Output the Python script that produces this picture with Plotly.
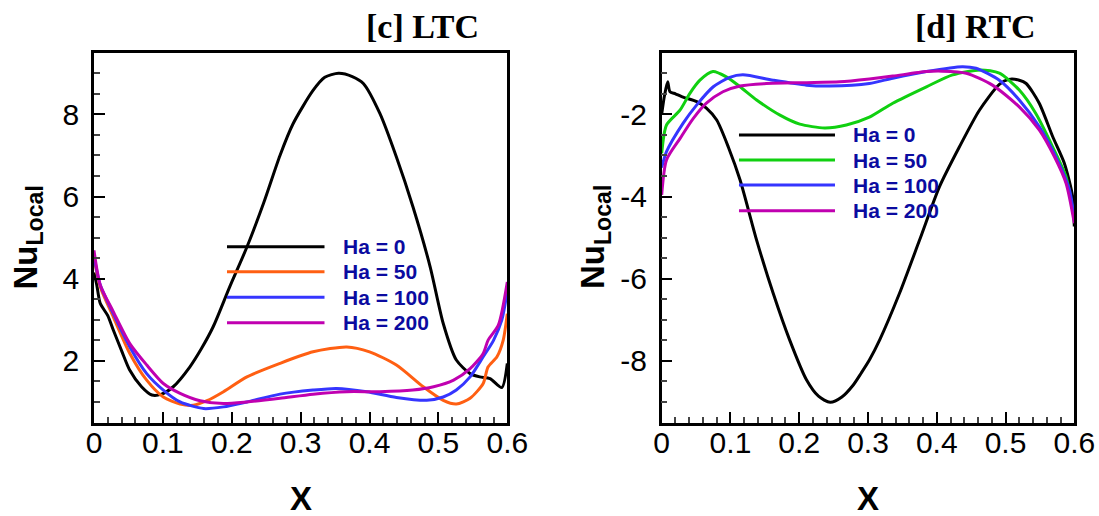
import plotly.graph_objects as go

# ---------------- data: local Nusselt number along the wall ----------------
ha_labels = ["Ha = 0", "Ha = 50", "Ha = 100", "Ha = 200"]

# [c] LTC
ltc_x_ha0 = [0.0, 0.004, 0.009, 0.02, 0.028, 0.04, 0.052, 0.069, 0.084, 0.098, 0.115, 0.139, 0.156, 0.173,
             0.197, 0.222, 0.246, 0.27, 0.289, 0.318, 0.335, 0.355, 0.375, 0.391, 0.415, 0.439, 0.463,
             0.488, 0.507, 0.526, 0.546, 0.56, 0.575, 0.592, 0.6]
ltc_y_ha0 = [4.15, 3.85, 3.4, 3.1, 2.75, 2.25, 1.77, 1.37, 1.17, 1.19, 1.37, 1.85, 2.3, 2.83,
             3.8, 4.77, 5.83, 7.0, 7.77, 8.58, 8.9, 9.0, 8.92, 8.75, 8.02, 6.96, 5.75,
             4.29, 2.91, 2.02, 1.69, 1.61, 1.57, 1.35, 1.94]

ltc_x_ha50 = [0.0, 0.009, 0.028, 0.052, 0.0765, 0.1006, 0.125, 0.144, 0.164, 0.188, 0.222, 0.27, 0.318,
              0.367, 0.4, 0.439, 0.478, 0.507, 0.526, 0.546, 0.565, 0.572, 0.585, 0.594, 0.6]
ltc_y_ha50 = [4.5, 3.8, 3.07, 2.18, 1.53, 1.12, 0.95, 0.92, 1.03, 1.25, 1.61, 1.94, 2.22,
              2.34, 2.22, 1.9, 1.37, 1.04, 0.95, 1.09, 1.45, 1.85, 2.1, 2.5, 3.15]

ltc_x_ha100 = [0.0, 0.009, 0.028, 0.052, 0.0765, 0.1006, 0.125, 0.159, 0.188, 0.222, 0.27, 0.318, 0.352,
               0.396, 0.439, 0.483, 0.507, 0.526, 0.546, 0.565, 0.58, 0.592, 0.6]
ltc_y_ha100 = [4.55, 3.85, 3.15, 2.34, 1.69, 1.29, 1.0, 0.84, 0.88, 1.0, 1.19, 1.29, 1.33,
               1.25, 1.11, 1.04, 1.12, 1.29, 1.61, 2.1, 2.5, 2.99, 3.7]

ltc_x_ha200 = [0.0, 0.009, 0.028, 0.052, 0.0765, 0.1006, 0.125, 0.154, 0.188, 0.222, 0.27, 0.318, 0.367,
               0.415, 0.463, 0.493, 0.522, 0.546, 0.565, 0.572, 0.587, 0.6]
ltc_y_ha200 = [4.69, 3.85, 3.2, 2.42, 1.9, 1.45, 1.21, 1.03, 0.96, 1.0, 1.09, 1.19, 1.25,
               1.25, 1.29, 1.37, 1.53, 1.81, 2.18, 2.5, 2.87, 3.92]

# [d] RTC
rtc_x_ha0 = [0.0, 0.004, 0.0087, 0.012, 0.02, 0.029, 0.051, 0.065, 0.08, 0.097, 0.114, 0.138, 0.162,
             0.186, 0.2105, 0.228, 0.245, 0.262, 0.278, 0.29, 0.302, 0.317, 0.346, 0.375, 0.404, 0.433,
             0.462, 0.491, 0.505, 0.52, 0.53, 0.549, 0.5685, 0.5855, 0.5975, 0.6]
rtc_y_ha0 = [-2.0, -1.55, -1.21, -1.45, -1.5, -1.57, -1.69, -1.85, -2.14, -2.8, -3.6, -5.06, -6.35,
             -7.49, -8.46, -8.86, -9.01, -8.88, -8.6, -8.3, -7.98, -7.49, -6.35, -5.06, -3.76, -2.79,
             -1.9, -1.27, -1.15, -1.17, -1.25, -1.73, -2.54, -3.19, -4.0, -4.73]

rtc_x_ha50 = [0.0, 0.007, 0.0266, 0.041, 0.0556, 0.0745, 0.094, 0.114, 0.138, 0.172, 0.2008, 0.237,
              0.2686, 0.302, 0.336, 0.385, 0.423, 0.4636, 0.491, 0.52, 0.544, 0.5685, 0.588, 0.6]
rtc_y_ha50 = [-2.95, -2.26, -1.9, -1.49, -1.17, -0.96, -1.09, -1.33, -1.65, -2.02, -2.24, -2.33,
              -2.26, -2.07, -1.73, -1.33, -1.04, -0.92, -1.0, -1.41, -1.98, -2.79, -3.52, -4.57]

rtc_x_ha100 = [0.0, 0.007, 0.031, 0.051, 0.075, 0.099, 0.118, 0.162, 0.2105, 0.244, 0.302, 0.336,
               0.385, 0.437, 0.457, 0.491, 0.52, 0.549, 0.573, 0.593, 0.6]
rtc_y_ha100 = [-3.3, -2.91, -2.22, -1.77, -1.33, -1.1, -1.04, -1.17, -1.29, -1.31, -1.25, -1.12,
               -0.96, -0.84, -0.88, -1.17, -1.65, -2.3, -3.03, -3.84, -4.57]

rtc_x_ha200 = [0.0, 0.007, 0.027, 0.046, 0.065, 0.089, 0.114, 0.152, 0.2105, 0.259, 0.302, 0.336,
               0.385, 0.408, 0.443, 0.481, 0.52, 0.549, 0.571, 0.588, 0.6]
rtc_y_ha200 = [-3.96, -3.11, -2.58, -2.1, -1.73, -1.45, -1.31, -1.25, -1.23, -1.21, -1.14, -1.07,
               -0.96, -0.95, -1.0, -1.29, -1.82, -2.38, -3.03, -3.68, -4.65]

# axis ticks
x_tickvals = [0, 0.1, 0.2, 0.3, 0.4, 0.5, 0.6]
x_ticktext = ["0", "0.1", "0.2", "0.3", "0.4", "0.5", "0.6"]
ltc_tickvals = [2, 4, 6, 8]
ltc_ticktext = ["2", "4", "6", "8"]
rtc_tickvals = [-8, -6, -4, -2]
rtc_ticktext = ["-8", "-6", "-4", "-2"]

# ---------------- styling ----------------
ltc_colors = ["#000000", "#FF5F12", "#3535FF", "#C000B0"]
rtc_colors = ["#000000", "#10D010", "#3535FF", "#C000B0"]
label_color = "#0B0BA0"
sans = "Liberation Sans"
serif = "Liberation Serif"
tick_size = 30

W, H = 1099, 516
dom_y = [0.1812, 0.8979]
dom_x_left = [94 / W, 507.3 / W]
dom_x_right = [661.7 / W, 1074.3 / W]

fig = go.Figure()

ltc_series = [(ltc_x_ha0, ltc_y_ha0), (ltc_x_ha50, ltc_y_ha50),
              (ltc_x_ha100, ltc_y_ha100), (ltc_x_ha200, ltc_y_ha200)]
rtc_series = [(rtc_x_ha0, rtc_y_ha0), (rtc_x_ha50, rtc_y_ha50),
              (rtc_x_ha100, rtc_y_ha100), (rtc_x_ha200, rtc_y_ha200)]

for (xs, ys), col, name in zip(ltc_series, ltc_colors, ha_labels):
    fig.add_trace(go.Scatter(x=xs, y=ys, mode="lines", name=name, xaxis="x", yaxis="y",
                             line=dict(color=col, width=3, shape="spline", smoothing=0.7),
                             showlegend=False))
for (xs, ys), col, name in zip(rtc_series, rtc_colors, ha_labels):
    fig.add_trace(go.Scatter(x=xs, y=ys, mode="lines", name=name, xaxis="x2", yaxis="y2",
                             line=dict(color=col, width=3, shape="spline", smoothing=0.7),
                             showlegend=False))


def x_axis(domain, anchor):
    return dict(domain=domain, anchor=anchor, range=[0, 0.6], automargin=False, tickmode="array",
                tickvals=x_tickvals, ticktext=x_ticktext, ticks="inside", ticklen=11,
                tickwidth=2, tickcolor="#000", showline=True, linewidth=2.5, linecolor="#000",
                mirror=True, showgrid=False, zeroline=False,
                tickfont=dict(family=sans, size=tick_size, color="#000"), ticklabelstandoff=-8,
                minor=dict(tickmode="linear", tick0=0, dtick=0.02, ticks="inside", ticklen=6,
                           tickwidth=1.5, tickcolor="#444", showgrid=False))


def y_axis(domain, anchor, rng, vals, text):
    return dict(domain=domain, anchor=anchor, range=rng, automargin=False, tickmode="array",
                tickvals=vals, ticktext=text, ticks="inside", ticklen=11,
                tickwidth=2, tickcolor="#000", showline=True, linewidth=2.5, linecolor="#000",
                mirror=True, showgrid=False, zeroline=False,
                tickfont=dict(family=sans, size=tick_size, color="#000"), ticklabelstandoff=6,
                minor=dict(tickmode="linear", tick0=0, dtick=0.5, ticks="inside", ticklen=6,
                           tickwidth=1.5, tickcolor="#444", showgrid=False))


fig.update_layout(
    width=W, height=H, margin=dict(l=0, r=0, t=0, b=0, autoexpand=False),
    paper_bgcolor="white", plot_bgcolor="white", showlegend=False,
    xaxis=x_axis(dom_x_left, "y"),
    yaxis=y_axis(dom_y, "x", [0.5, 9.5], ltc_tickvals, ltc_ticktext),
    xaxis2=x_axis(dom_x_right, "y2"),
    yaxis2=y_axis(dom_y, "x2", [-9.5, -0.5], rtc_tickvals, rtc_ticktext),
)

annotations = []
shapes = []

# panel titles
annotations.append(dict(text="<b>[c] LTC</b>", x=422.3 / W, y=1 - 27 / H, xref="paper", yref="paper",
                        xanchor="center", yanchor="middle", showarrow=False,
                        font=dict(family=serif, size=34, color="#000")))
annotations.append(dict(text="<b>[d] RTC</b>", x=975.9 / W, y=1 - 27 / H, xref="paper", yref="paper",
                        xanchor="center", yanchor="middle", showarrow=False,
                        font=dict(family=serif, size=34, color="#000")))

# axis titles
for cx in (300.6, 868.0):
    annotations.append(dict(text="<b>X</b>", x=cx / W, y=1 - 498.5 / H, xref="paper", yref="paper",
                            xanchor="center", yanchor="middle", showarrow=False,
                            font=dict(family=sans, size=33, color="#000")))
for cx in (28.0, 595.5):
    annotations.append(dict(text="<b>Nu<sub>Local</sub></b>", x=cx / W, y=1 - 237.5 / H,
                            xref="paper", yref="paper", xanchor="center", yanchor="middle",
                            textangle=-90, showarrow=False,
                            font=dict(family=sans, size=33, color="#000")))

# in-plot legends
legend_specs = [
    ("x", "y", ltc_colors, 0.3218, 0.5577, 0.5969, [0.4754, 0.4078, 0.3386, 0.2699]),
    ("x2", "y2", rtc_colors, 0.1873, 0.42, 0.458, [0.7775, 0.7098, 0.6422, 0.5727]),
]
for xa, ya, cols, x0, x1, xt, rows in legend_specs:
    for col, lab, yr in zip(cols, ha_labels, rows):
        shapes.append(dict(type="line", xref=f"{xa} domain", yref=f"{ya} domain",
                           x0=x0, x1=x1, y0=yr, y1=yr, line=dict(color=col, width=3)))
        annotations.append(dict(text=f"<b>{lab}</b>", x=xt, y=yr, xref=f"{xa} domain",
                                yref=f"{ya} domain", xanchor="left", yanchor="middle",
                                showarrow=False, font=dict(family=sans, size=21, color=label_color)))

fig.update_layout(annotations=annotations, shapes=shapes)

fig.write_html("out.html")
